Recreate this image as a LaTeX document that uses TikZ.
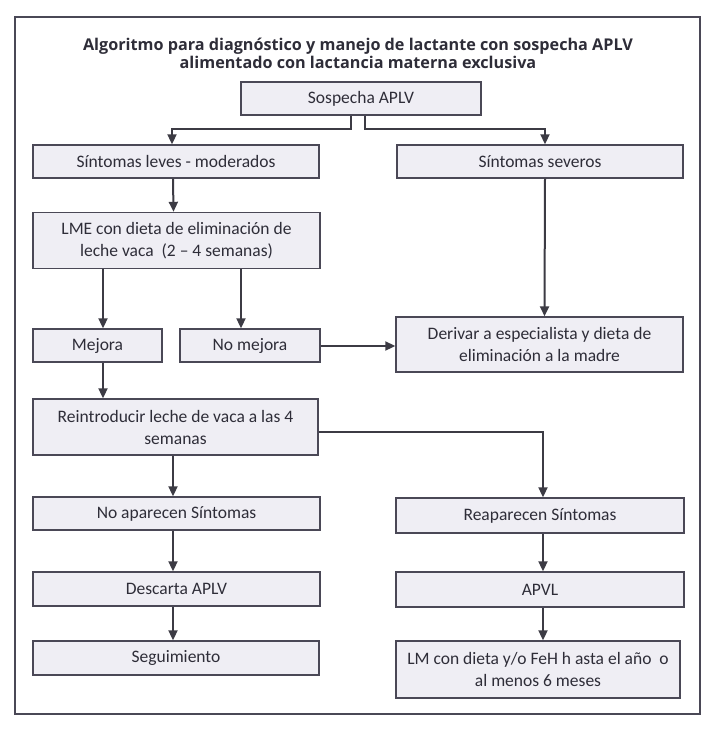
\documentclass[tikz,border=0pt]{standalone}
\usepackage{fontspec}
\setmainfont{Carlito}
\newfontfamily\titlefont{Open Sans}
\usetikzlibrary{arrows.meta,calc}
\definecolor{boxfill}{HTML}{EFEEF4}
\definecolor{boxline}{HTML}{4A4856}
\definecolor{arrcol}{HTML}{3C3B44}
\definecolor{txt}{HTML}{2E2D38}
\begin{document}
\begin{tikzpicture}[x=1pt,y=-1pt,
  box/.style={draw=boxline,line width=1.4pt,fill=boxfill,text=txt,
     font=\fontsize{17.5}{22}\selectfont,align=center,inner sep=0pt},
  arr/.style={draw=arrcol,line width=2pt,-{Triangle[length=10pt,width=9pt]}}]
\useasboundingbox (0,0) rectangle (715,734);
\draw[draw=boxline,line width=1.8pt] (15,17) rectangle (700,714);
\node[text=txt,font=\titlefont\bfseries\fontsize{16.2}{18}\selectfont,align=center] (title) at (358,53.5)
  {Algoritmo para diagnóstico y manejo de lactante con sospecha APLV\\alimentado con lactancia materna exclusiva};
\node[box,minimum width=240,minimum height=33] (sosp) at (361,98.5) {Sospecha APLV};
\node[box,minimum width=286,minimum height=33] (leves) at (176,161.5) {Síntomas leves - moderados};
\node[box,minimum width=286,minimum height=33] (sev) at (540,161.5) {Síntomas severos};
\node[box,minimum width=287,minimum height=56] (lme) at (176.5,240.5) {LME con dieta de eliminación de\\leche vaca\ \ (2 – 4 semanas)};
\node[box,minimum width=129,minimum height=33] (mej) at (97.5,345.5) {Mejora};
\node[box,minimum width=140,minimum height=33] (nomej) at (250,345.5) {No mejora};
\node[box,minimum width=287,minimum height=55] (deriv) at (539.5,344.5) {Derivar a especialista y dieta de\\eliminación a la madre};
\node[box,minimum width=285,minimum height=56] (reint) at (175.5,427) {Reintroducir leche de vaca a las 4\\semanas};
\node[box,minimum width=287,minimum height=33] (noap) at (176.5,513.5) {No aparecen Síntomas};
\node[box,minimum width=288,minimum height=35] (reap) at (540,515.5) {Reaparecen Síntomas};
\node[box,minimum width=287,minimum height=34] (desc) at (176.5,589) {Descarta APLV};
\node[box,minimum width=288,minimum height=35] (apvl) at (540,589.5) {APVL};
\node[box,minimum width=286,minimum height=34] (seg) at (176,658) {Seguimiento};
\node[box,minimum width=284,minimum height=57] (lm) at (538,669.5) {LM con dieta y/o FeH h asta el año\ \ o\\al menos 6 meses};
% connectors
\draw[arr] ([xshift=-10pt]sosp.south) |- ++(0,13) -| ([xshift=-4pt]leves.north);
\draw[arr] ([xshift=4pt]sosp.south) |- ++(0,13) -| ([xshift=5pt]sev.north);
\draw[arr] ([xshift=-3pt]leves.south) -- ([xshift=-3pt]lme.north);
\draw[arr] ([xshift=5.5pt]mej.north |- lme.south) -- ([xshift=5.5pt]mej.north);
\draw[arr] ([xshift=-9pt]nomej.north |- lme.south) -- ([xshift=-9pt]nomej.north);
\draw[arr] ([yshift=-0.5pt]nomej.east) -- ([yshift=-0.5pt]nomej.east -| deriv.west);
\draw[arr] ([xshift=5pt]sev.south) -- ([xshift=5pt]deriv.north);
\draw[arr] ([xshift=5.5pt]mej.south) -- ([xshift=5.5pt]mej.south |- reint.north);
\draw[arr] ([yshift=-5pt]reint.east) -| ([xshift=3pt]reap.north);
\draw[arr] ([xshift=-2.5pt]reint.south) -- ([xshift=-2.5pt]reint.south |- noap.north);
\draw[arr] ([xshift=-3.5pt]noap.south) -- ([xshift=-3.5pt]noap.south |- desc.north);
\draw[arr] ([xshift=-3.5pt]desc.south) -- ([xshift=-3.5pt]desc.south |- seg.north);
\draw[arr] ([xshift=3pt]reap.south) -- ([xshift=3pt]reap.south |- apvl.north);
\draw[arr] ([xshift=3pt]apvl.south) -- ([xshift=3pt]apvl.south |- lm.north);
\end{tikzpicture}
\end{document}
